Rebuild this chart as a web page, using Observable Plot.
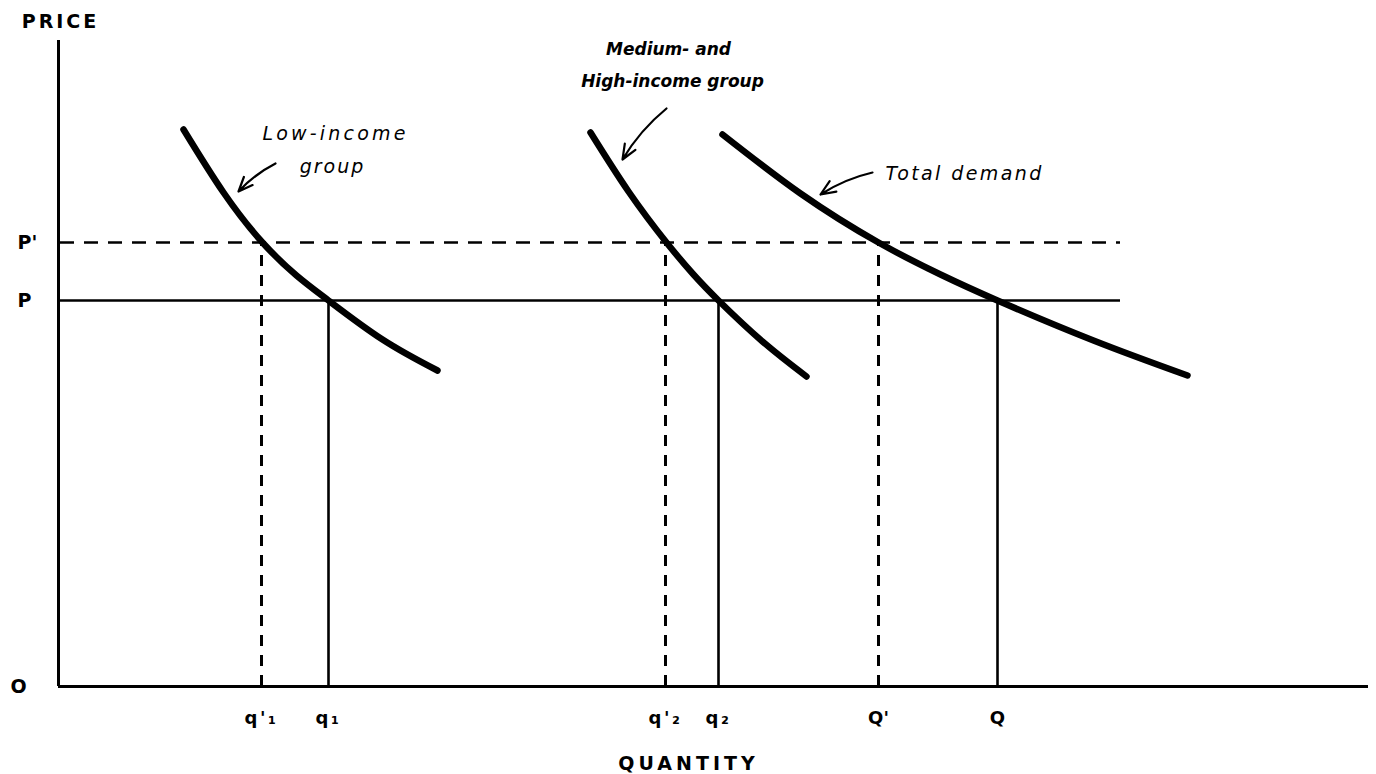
<!DOCTYPE html>
<html>
<head>
<meta charset="utf-8">
<script src="https://cdn.jsdelivr.net/npm/d3@7"></script>
<script src="https://cdn.jsdelivr.net/npm/@observablehq/plot@0.6"></script>
<style>
  html, body { margin: 0; padding: 0; background: #fff; }
</style>
</head>
<body>
<div id="chart"></div>
<script>
// ---- Data (quantity / price units) ----
const lowQ = [12.5, 16.5, 20.4, 23.8, 27.0, 32.4, 37.9];
const lowP = [55.7, 49.4, 44.4, 41.1, 38.6, 34.7, 31.6];
const medQ = [53.2, 57.0, 60.8, 63.5, 66.0, 70.4, 74.8];
const medP = [55.4, 49.5, 44.4, 41.2, 38.6, 34.5, 31.0];
const totQ = [66.4, 74.2, 82.0, 88.2, 93.9, 103.5, 112.9];
const totP = [55.2, 49.3, 44.4, 41.2, 38.6, 34.6, 31.1];

const priceLevels = [44.4, 38.6];          // P', P
const priceLabels = ["P'", "P"];
const priceDashed = [true, false];
const lineEndQ = 106.2;

const qValues = [20.3, 27.0, 60.7, 66.0, 82.0, 93.9];
const qLabels = ["q'₁", "q₁", "q'₂", "q₂", "Q'", "Q"];
const qDashed = [true, false, true, false, true, false];
const qPrice  = [44.4, 38.6, 44.4, 38.6, 44.4, 38.6];

const xMax = 131, yMax = 64.6;

// annotation labels
const labelText   = ["Low-income", "group", "Medium- and", "High-income group", "Total demand"];
const labelQ      = [27.7, 27.4, 61.0, 61.4, 82.7];
const labelP      = [55.3, 52.0, 63.7, 60.5, 51.3];
const labelAnchor = ["middle", "middle", "middle", "middle", "start"];
const labelWeight = ["normal", "normal", "bold", "bold", "normal"];

// arrows
const arrQ1 = [21.7, 60.8, 81.4];
const arrP1 = [52.3, 57.8, 51.4];
const arrQ2 = [18.0, 56.4, 76.2];
const arrP2 = [49.5, 52.7, 49.2];

// ---- Build tables ----
const curve = (qs, ps, name) => qs.map((q, i) => ({q, p: ps[i], name}));
const curves = [
  ...curve(lowQ, lowP, "low"),
  ...curve(medQ, medP, "med"),
  ...curve(totQ, totP, "tot")
];
const hLines = priceLevels.map((p, i) => ({p, label: priceLabels[i], dashed: priceDashed[i]}));
const vLines = qValues.map((q, i) => ({q, label: qLabels[i], dashed: qDashed[i], p: qPrice[i]}));
const labels = labelText.map((t, i) => ({t, q: labelQ[i], p: labelP[i], a: labelAnchor[i], w: labelWeight[i]}));
const arrows = arrQ1.map((q1, i) => ({q1, p1: arrP1[i], q2: arrQ2[i], p2: arrP2[i]}));

const font = "DejaVu Sans";

const chart = Plot.plot({
  width: 1376,
  height: 774,
  marginLeft: 58,
  marginRight: 8,
  marginTop: 40,
  marginBottom: 88,
  x: {domain: [0, xMax]},
  y: {domain: [0, yMax]},
  style: {fontFamily: font, background: "#fff", color: "#000"},
  marks: [
    // price guide lines
    Plot.ruleY(hLines.filter(d => d.dashed), {y: "p", x1: 0.2, x2: lineEndQ, stroke: "#000", strokeWidth: 2.6, strokeDasharray: "14,10"}),
    Plot.ruleY(hLines.filter(d => !d.dashed), {y: "p", x1: 0, x2: lineEndQ, stroke: "#000", strokeWidth: 2.4}),
    // quantity guide lines
    Plot.ruleX(vLines.filter(d => d.dashed), {x: "q", y1: 0, y2: "p", stroke: "#000", strokeWidth: 3, strokeDasharray: "11,9"}),
    Plot.ruleX(vLines.filter(d => !d.dashed), {x: "q", y1: 0, y2: "p", stroke: "#000", strokeWidth: 2.6}),
    // axes lines
    Plot.ruleX([0], {stroke: "#000", strokeWidth: 3}),
    Plot.ruleY([0], {stroke: "#000", strokeWidth: 3}),
    // demand curves
    Plot.line(curves, {x: "q", y: "p", z: "name", curve: "natural", stroke: "#000", strokeWidth: 6.5, strokeLinecap: "round"}),
    // arrows
    Plot.arrow(arrows, {x1: "q1", y1: "p1", x2: "q2", y2: "p2", bend: -10, stroke: "#000", strokeWidth: 2.2, headLength: 11, headAngle: 45}),
    // annotations
    Plot.text(labels.filter(d => d.w === "normal" && d.a === "middle"), {x: "q", y: "p", text: "t", textAnchor: "middle", fontStyle: "italic", fontSize: 19, fill: "#000"}),
    Plot.text(labels.filter(d => d.w === "normal" && d.a === "start"), {x: "q", y: "p", text: "t", textAnchor: "start", fontStyle: "italic", fontSize: 19, fill: "#000"}),
    Plot.text(labels.filter(d => d.w === "bold"), {x: "q", y: "p", text: "t", textAnchor: "middle", fontStyle: "italic", fontWeight: "bold", fontSize: 17, fill: "#000"}),
    // axis tick labels
    Plot.axisX({ticks: qValues, tickFormat: (d, i) => qLabels[i], tickSize: 0, tickPadding: 25, fontSize: 18, fontWeight: "bold", label: null}),
    Plot.axisY({ticks: priceLevels, tickFormat: (d, i) => priceLabels[i], tickSize: 0, tickPadding: 41, textAnchor: "start", fontSize: 19, fontWeight: "bold", label: null}),
    Plot.axisY({ticks: [0], tickFormat: () => "O", tickSize: 0, tickPadding: 48, textAnchor: "start", fontSize: 19, fontWeight: "bold", label: null}),
    // axis titles
    Plot.text(["PRICE"], {frameAnchor: "top-left", text: d => d, dx: 2, dy: -19, lineAnchor: "middle", textAnchor: "middle", fontSize: 19, fontWeight: "bold", fill: "#000"}),
    Plot.text(["QUANTITY"], {frameAnchor: "bottom", text: d => d, dx: -25, dy: 77, lineAnchor: "middle", textAnchor: "middle", fontSize: 19, fontWeight: "bold", fill: "#000"})
  ]
});

// letter spacing for the spaced-out lettering of the original
const spacing = {"Low-income": 3.2, "group": 2, "Total demand": 2.4, "PRICE": 3, "QUANTITY": 4,
                 "q'₁": 2.5, "q₁": 2.5, "q'₂": 2.5, "q₂": 2.5};
d3.select(chart).selectAll("text").each(function() {
  const s = spacing[this.textContent];
  if (s != null) d3.select(this).style("letter-spacing", s + "px");
});

document.getElementById("chart").appendChild(chart);
</script>
</body>
</html>
